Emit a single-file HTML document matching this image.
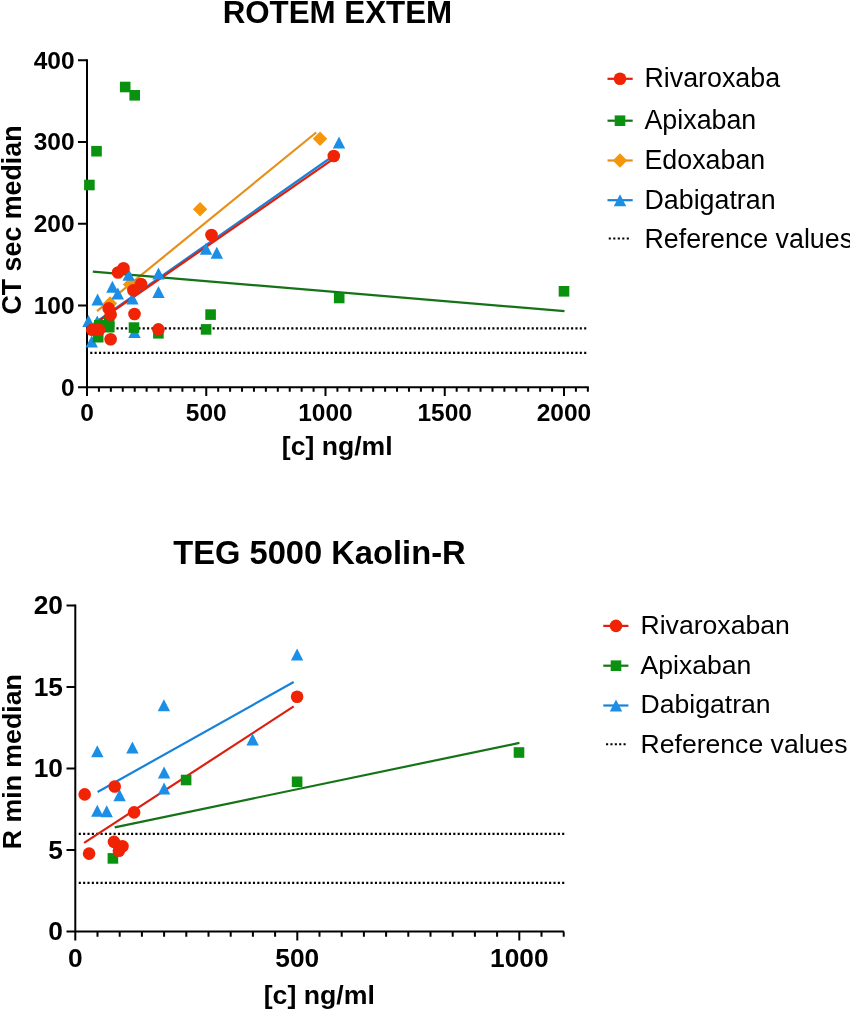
<!DOCTYPE html>
<html><head><meta charset="utf-8"><style>
html,body{margin:0;padding:0;background:#fff;}
body{width:850px;height:1011px;overflow:hidden;}
svg{display:block;-webkit-font-smoothing:antialiased;will-change:transform;}
text{font-family:"Liberation Sans",sans-serif;fill:#000;}
.b{font-weight:bold;}
.r{font-weight:normal;}
</style></head><body>
<svg width="850" height="1011" viewBox="0 0 850 1011">
<text x="337.4" y="23.3" class="b" font-size="31.3" text-anchor="middle">ROTEM EXTEM</text>
<path d="M87.0 59.2V396M78 387.3H588.8" stroke="#000" stroke-width="2" fill="none"/>
<path d="M78 305.52H87.0M78 223.74H87.0M78 141.96H87.0M78 60.18H87.0M98.92 387.3V391.8M110.85 387.3V391.8M122.78 387.3V391.8M134.70 387.3V391.8M146.62 387.3V391.8M158.55 387.3V391.8M170.47 387.3V391.8M182.40 387.3V391.8M194.32 387.3V391.8M206.25 387.3V396M218.17 387.3V391.8M230.10 387.3V391.8M242.03 387.3V391.8M253.95 387.3V391.8M265.88 387.3V391.8M277.80 387.3V391.8M289.73 387.3V391.8M301.65 387.3V391.8M313.57 387.3V391.8M325.50 387.3V396M337.42 387.3V391.8M349.35 387.3V391.8M361.27 387.3V391.8M373.20 387.3V391.8M385.12 387.3V391.8M397.05 387.3V391.8M408.97 387.3V391.8M420.90 387.3V391.8M432.82 387.3V391.8M444.75 387.3V396M456.68 387.3V391.8M468.60 387.3V391.8M480.52 387.3V391.8M492.45 387.3V391.8M504.38 387.3V391.8M516.30 387.3V391.8M528.22 387.3V391.8M540.15 387.3V391.8M552.08 387.3V391.8M564.00 387.3V396M575.92 387.3V391.8M587.85 387.3V391.8" stroke="#000" stroke-width="2" fill="none"/>
<text x="74.6" y="395.70" class="b" font-size="24.5" text-anchor="end">0</text>
<text x="74.6" y="313.92" class="b" font-size="24.5" text-anchor="end">100</text>
<text x="74.6" y="232.14" class="b" font-size="24.5" text-anchor="end">200</text>
<text x="74.6" y="150.36" class="b" font-size="24.5" text-anchor="end">300</text>
<text x="74.6" y="68.58" class="b" font-size="24.5" text-anchor="end">400</text>
<text x="87.00" y="421" class="b" font-size="24.5" text-anchor="middle">0</text>
<text x="206.25" y="421" class="b" font-size="24.5" text-anchor="middle">500</text>
<text x="325.50" y="421" class="b" font-size="24.5" text-anchor="middle">1000</text>
<text x="444.75" y="421" class="b" font-size="24.5" text-anchor="middle">1500</text>
<text x="564.00" y="421" class="b" font-size="24.5" text-anchor="middle">2000</text>
<text x="337.2" y="455.4" class="b" font-size="26.6" text-anchor="middle">[c] ng/ml</text>
<text transform="translate(20.6 220) rotate(-90)" class="b" font-size="26.8" text-anchor="middle">CT sec median</text>
<line x1="586.25" y1="328.4" x2="90.25" y2="328.4" stroke="#000" stroke-width="2.1" stroke-dasharray="2.1 2.271"/>
<line x1="586.25" y1="352.85" x2="90.25" y2="352.85" stroke="#000" stroke-width="2.1" stroke-dasharray="2.1 2.271"/>
<line x1="98" y1="320.6" x2="336" y2="154" stroke="#1782DA" stroke-width="2.2"/>
<line x1="97" y1="311.1" x2="316.2" y2="132.5" stroke="#E6901A" stroke-width="2.2"/>
<line x1="92.8" y1="271.6" x2="564.5" y2="311.2" stroke="#157317" stroke-width="2.2"/>
<line x1="98" y1="321.5" x2="333.8" y2="158.7" stroke="#DC200F" stroke-width="2.2"/>
<path d="M320.00 131.60L327.20 138.80L320.00 146.00L312.80 138.80Z" fill="#F5960A"/>
<path d="M200.10 202.00L207.30 209.20L200.10 216.40L192.90 209.20Z" fill="#F5960A"/>
<path d="M130.00 277.30L137.20 284.50L130.00 291.70L122.80 284.50Z" fill="#F5960A"/>
<path d="M110.00 296.30L117.20 303.50L110.00 310.70L102.80 303.50Z" fill="#F5960A"/>
<path d="M339.00 136.60L345.20 148.60L332.80 148.60Z" fill="#1B8EE6"/>
<path d="M206.00 242.80L212.20 254.80L199.80 254.80Z" fill="#1B8EE6"/>
<path d="M216.80 246.70L223.00 258.70L210.60 258.70Z" fill="#1B8EE6"/>
<path d="M158.50 267.50L164.70 279.50L152.30 279.50Z" fill="#1B8EE6"/>
<path d="M158.50 286.00L164.70 298.00L152.30 298.00Z" fill="#1B8EE6"/>
<path d="M128.70 268.80L134.90 280.80L122.50 280.80Z" fill="#1B8EE6"/>
<path d="M112.40 280.80L118.60 292.80L106.20 292.80Z" fill="#1B8EE6"/>
<path d="M117.80 287.40L124.00 299.40L111.60 299.40Z" fill="#1B8EE6"/>
<path d="M97.60 293.40L103.80 305.40L91.40 305.40Z" fill="#1B8EE6"/>
<path d="M132.40 292.50L138.60 304.50L126.20 304.50Z" fill="#1B8EE6"/>
<path d="M88.50 315.00L94.70 327.00L82.30 327.00Z" fill="#1B8EE6"/>
<path d="M97.20 315.50L103.40 327.50L91.00 327.50Z" fill="#1B8EE6"/>
<path d="M134.50 326.00L140.70 338.00L128.30 338.00Z" fill="#1B8EE6"/>
<path d="M91.70 335.60L97.90 347.60L85.50 347.60Z" fill="#1B8EE6"/>
<rect x="119.90" y="81.70" width="10.6" height="10.6" fill="#0A910F"/>
<rect x="129.40" y="90.00" width="10.6" height="10.6" fill="#0A910F"/>
<rect x="91.20" y="145.90" width="10.6" height="10.6" fill="#0A910F"/>
<rect x="84.10" y="179.70" width="10.6" height="10.6" fill="#0A910F"/>
<rect x="558.70" y="286.00" width="10.6" height="10.6" fill="#0A910F"/>
<rect x="333.90" y="292.70" width="10.6" height="10.6" fill="#0A910F"/>
<rect x="205.30" y="309.30" width="10.6" height="10.6" fill="#0A910F"/>
<rect x="200.80" y="324.10" width="10.6" height="10.6" fill="#0A910F"/>
<rect x="128.70" y="322.30" width="10.6" height="10.6" fill="#0A910F"/>
<rect x="153.10" y="328.00" width="10.6" height="10.6" fill="#0A910F"/>
<rect x="94.00" y="320.00" width="10.6" height="10.6" fill="#0A910F"/>
<rect x="103.90" y="316.50" width="10.6" height="10.6" fill="#0A910F"/>
<rect x="103.90" y="321.90" width="10.6" height="10.6" fill="#0A910F"/>
<rect x="92.90" y="331.90" width="10.6" height="10.6" fill="#0A910F"/>
<circle cx="333.8" cy="156" r="6.3" fill="#F02305"/>
<circle cx="211.5" cy="235" r="6.3" fill="#F02305"/>
<circle cx="118" cy="272.5" r="6.3" fill="#F02305"/>
<circle cx="123.5" cy="268.3" r="6.3" fill="#F02305"/>
<circle cx="133.4" cy="290.2" r="6.3" fill="#F02305"/>
<circle cx="141" cy="284" r="6.3" fill="#F02305"/>
<circle cx="108.7" cy="308.4" r="6.3" fill="#F02305"/>
<circle cx="110.7" cy="314.6" r="6.3" fill="#F02305"/>
<circle cx="134.5" cy="314" r="6.3" fill="#F02305"/>
<circle cx="158.4" cy="329.4" r="6.3" fill="#F02305"/>
<circle cx="92.2" cy="329.8" r="6.3" fill="#F02305"/>
<circle cx="99.1" cy="329.7" r="6.3" fill="#F02305"/>
<circle cx="110.6" cy="339.2" r="6.3" fill="#F02305"/>
<line x1="607.5" y1="78.8" x2="632.7" y2="78.8" stroke="#DC200F" stroke-width="2.2"/>
<circle cx="620" cy="78.8" r="6.3" fill="#F02305"/>
<text x="644.5" y="87.3" class="r" font-size="26.8">Rivaroxaba</text>
<line x1="607.5" y1="120.7" x2="632.7" y2="120.7" stroke="#157317" stroke-width="2.2"/>
<rect x="614.70" y="115.40" width="10.6" height="10.6" fill="#0A910F"/>
<text x="644.5" y="129.0" class="r" font-size="26.8">Apixaban</text>
<line x1="607.5" y1="160.5" x2="632.7" y2="160.5" stroke="#E6901A" stroke-width="2.2"/>
<path d="M620.00 153.30L627.20 160.50L620.00 167.70L612.80 160.50Z" fill="#F5960A"/>
<text x="644.5" y="168.7" class="r" font-size="26.8">Edoxaban</text>
<line x1="607.5" y1="200.2" x2="632.7" y2="200.2" stroke="#1782DA" stroke-width="2.2"/>
<path d="M620.00 194.20L626.20 206.20L613.80 206.20Z" fill="#1B8EE6"/>
<text x="644.5" y="208.6" class="r" font-size="26.8">Dabigatran</text>
<line x1="628.85" y1="238.5" x2="608.75" y2="238.5" stroke="#000" stroke-width="2.1" stroke-dasharray="2.1 2.400"/>
<text x="644.5" y="248.3" class="r" font-size="26.8">Reference values</text>
<text x="319.4" y="563.8" class="b" font-size="32.7" text-anchor="middle">TEG 5000 Kaolin-R</text>
<path d="M75.3 604.4V940.6M66.5 931.4H563.9" stroke="#000" stroke-width="2" fill="none"/>
<path d="M66.5 849.90H75.3M66.5 768.40H75.3M66.5 686.90H75.3M66.5 605.40H75.3M97.50 931.4V936.7M119.70 931.4V936.7M141.90 931.4V936.7M164.10 931.4V936.7M186.30 931.4V936.7M208.50 931.4V936.7M230.70 931.4V936.7M252.90 931.4V936.7M275.10 931.4V936.7M297.30 931.4V940.6M319.50 931.4V936.7M341.70 931.4V936.7M363.90 931.4V936.7M386.10 931.4V936.7M408.30 931.4V936.7M430.50 931.4V936.7M452.70 931.4V936.7M474.90 931.4V936.7M497.10 931.4V936.7M519.30 931.4V940.6M541.50 931.4V936.7M563.70 931.4V936.7" stroke="#000" stroke-width="2" fill="none"/>
<text x="63" y="940.40" class="b" font-size="26.3" text-anchor="end">0</text>
<text x="63" y="858.90" class="b" font-size="26.3" text-anchor="end">5</text>
<text x="63" y="777.40" class="b" font-size="26.3" text-anchor="end">10</text>
<text x="63" y="695.90" class="b" font-size="26.3" text-anchor="end">15</text>
<text x="63" y="614.40" class="b" font-size="26.3" text-anchor="end">20</text>
<text x="75.30" y="966.8" class="b" font-size="26.3" text-anchor="middle">0</text>
<text x="297.30" y="966.8" class="b" font-size="26.3" text-anchor="middle">500</text>
<text x="519.30" y="966.8" class="b" font-size="26.3" text-anchor="middle">1000</text>
<text x="319.3" y="1004.2" class="b" font-size="26.7" text-anchor="middle">[c] ng/ml</text>
<text transform="translate(20.5 761.7) rotate(-90)" class="b" font-size="26.7" text-anchor="middle">R min median</text>
<line x1="564.25" y1="833.85" x2="78.75" y2="833.85" stroke="#000" stroke-width="2.1" stroke-dasharray="2.1 2.255"/>
<line x1="564.25" y1="882.85" x2="78.75" y2="882.85" stroke="#000" stroke-width="2.1" stroke-dasharray="2.1 2.255"/>
<line x1="97.6" y1="792" x2="293.7" y2="682" stroke="#1782DA" stroke-width="2.2"/>
<line x1="114.7" y1="827.3" x2="519.4" y2="742.9" stroke="#157317" stroke-width="2.2"/>
<line x1="84.1" y1="842.9" x2="293.7" y2="706.4" stroke="#DC200F" stroke-width="2.2"/>
<path d="M97.30 745.20L103.50 757.20L91.10 757.20Z" fill="#1B8EE6"/>
<path d="M132.40 741.60L138.60 753.60L126.20 753.60Z" fill="#1B8EE6"/>
<path d="M164.10 766.60L170.30 778.60L157.90 778.60Z" fill="#1B8EE6"/>
<path d="M164.10 782.40L170.30 794.40L157.90 794.40Z" fill="#1B8EE6"/>
<path d="M119.60 789.30L125.80 801.30L113.40 801.30Z" fill="#1B8EE6"/>
<path d="M97.30 804.80L103.50 816.80L91.10 816.80Z" fill="#1B8EE6"/>
<path d="M106.70 805.20L112.90 817.20L100.50 817.20Z" fill="#1B8EE6"/>
<path d="M163.90 699.20L170.10 711.20L157.70 711.20Z" fill="#1B8EE6"/>
<path d="M252.60 733.50L258.80 745.50L246.40 745.50Z" fill="#1B8EE6"/>
<path d="M297.10 648.60L303.30 660.60L290.90 660.60Z" fill="#1B8EE6"/>
<rect x="107.60" y="853.10" width="10.6" height="10.6" fill="#0A910F"/>
<rect x="180.80" y="774.70" width="10.6" height="10.6" fill="#0A910F"/>
<rect x="291.80" y="776.50" width="10.6" height="10.6" fill="#0A910F"/>
<rect x="513.70" y="747.20" width="10.6" height="10.6" fill="#0A910F"/>
<circle cx="84.7" cy="794.4" r="6.3" fill="#F02305"/>
<circle cx="114.7" cy="786.5" r="6.3" fill="#F02305"/>
<circle cx="134.1" cy="812.4" r="6.3" fill="#F02305"/>
<circle cx="89.1" cy="853.6" r="6.3" fill="#F02305"/>
<circle cx="114" cy="841.9" r="6.3" fill="#F02305"/>
<circle cx="122.5" cy="846.2" r="6.3" fill="#F02305"/>
<circle cx="118.9" cy="850.8" r="6.3" fill="#F02305"/>
<circle cx="297.1" cy="696.8" r="6.3" fill="#F02305"/>
<line x1="603.3" y1="625.9" x2="628.4" y2="625.9" stroke="#DC200F" stroke-width="2.2"/>
<circle cx="616" cy="625.9" r="6.3" fill="#F02305"/>
<text x="640.5" y="633.9" class="r" font-size="26.6">Rivaroxaban</text>
<line x1="603.3" y1="665.7" x2="628.4" y2="665.7" stroke="#157317" stroke-width="2.2"/>
<rect x="610.70" y="660.40" width="10.6" height="10.6" fill="#0A910F"/>
<text x="640.5" y="673.5" class="r" font-size="26.6">Apixaban</text>
<line x1="603.3" y1="705.5" x2="628.4" y2="705.5" stroke="#1782DA" stroke-width="2.2"/>
<path d="M616.00 699.50L622.20 711.50L609.80 711.50Z" fill="#1B8EE6"/>
<text x="640.5" y="713.2" class="r" font-size="26.6">Dabigatran</text>
<line x1="625.65" y1="744.3" x2="606.05" y2="744.3" stroke="#000" stroke-width="2.1" stroke-dasharray="2.1 2.275"/>
<text x="640.5" y="753.1" class="r" font-size="26.6">Reference values</text>
</svg>
</body></html>
